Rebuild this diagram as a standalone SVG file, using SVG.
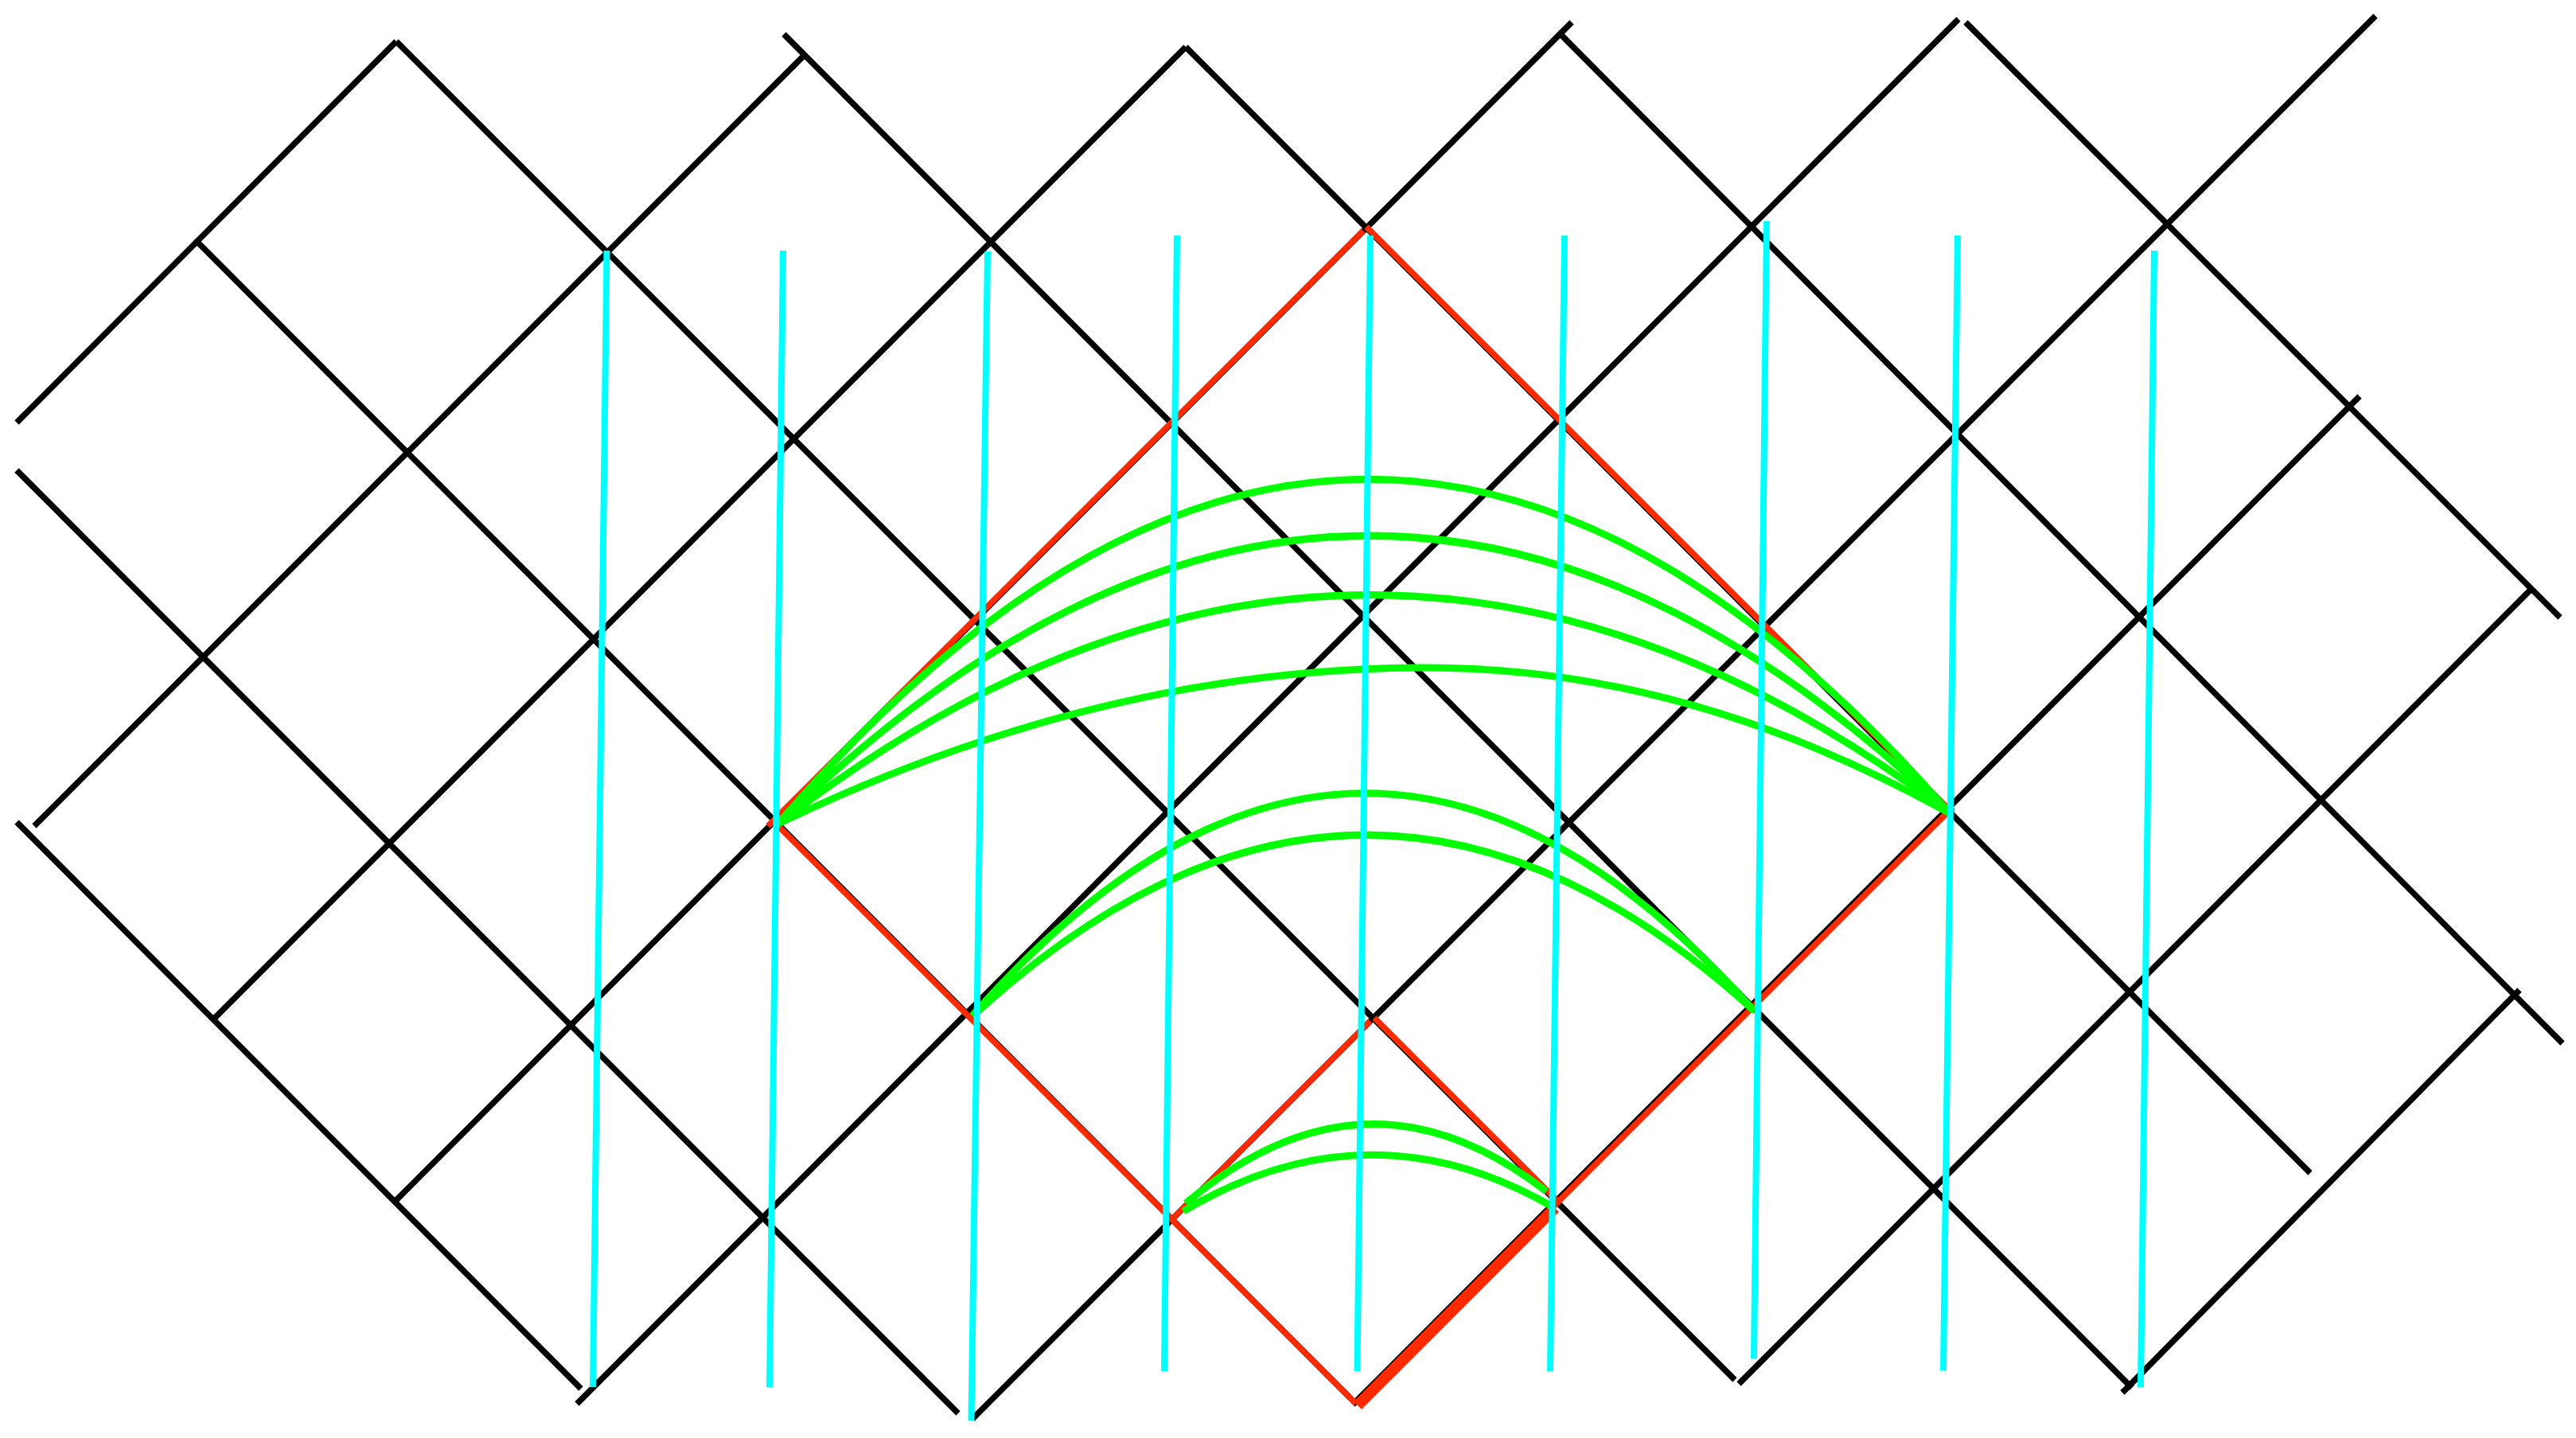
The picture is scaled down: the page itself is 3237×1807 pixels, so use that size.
<svg xmlns="http://www.w3.org/2000/svg" width="3237" height="1807" viewBox="0 0 3237 1807">
<style>
.blk{stroke:#000;stroke-width:7.5;fill:none;stroke-linecap:butt}
.red{stroke:#ff2a00;stroke-width:7.5;fill:none;stroke-linecap:butt}
.redthick{stroke:#ff2a00;stroke-width:14;fill:none;stroke-linecap:butt}
.grn{stroke:#00ff00;stroke-width:9;fill:none;stroke-linecap:butt}
.cyn{stroke:#00ffff;stroke-width:8;fill:none;stroke-linecap:butt}
</style>
<rect x="0" y="0" width="3237" height="1807" fill="#fff"/>
<g id="lattice">
<line class="blk" x1="21" y1="531" x2="498" y2="52"/>
<line class="blk" x1="498" y1="52" x2="2180" y2="1734"/>
<line class="blk" x1="245" y1="301" x2="1697" y2="1757"/>
<line class="blk" x1="21" y1="591" x2="1204" y2="1776"/>
<line class="blk" x1="21" y1="1033" x2="730" y2="1745"/>
<line class="blk" x1="985" y1="43" x2="2679" y2="1744"/>
<line class="blk" x1="1490" y1="59" x2="2903" y2="1474"/>
<line class="blk" x1="1958" y1="40" x2="3220" y2="1311"/>
<line class="blk" x1="2470" y1="28" x2="3217" y2="776"/>
<line class="blk" x1="43" y1="1038" x2="1010" y2="70"/>
<line class="blk" x1="270" y1="1279" x2="1490" y2="59"/>
<line class="blk" x1="498" y1="1508" x2="1975" y2="28"/>
<line class="blk" x1="725" y1="1764" x2="2461" y2="24"/>
<line class="blk" x1="1222" y1="1783" x2="2985" y2="20"/>
<line class="blk" x1="1700" y1="1765" x2="2965" y2="498"/>
<line class="blk" x1="2185" y1="1739" x2="3180" y2="741"/>
<line class="blk" x1="2667" y1="1750" x2="3166" y2="1244"/>
</g>
<g id="red-cone">
<line class="red" x1="965" y1="1038" x2="1713" y2="290"/>
<line class="red" x1="1717" y1="285" x2="2454" y2="1022"/>
<line class="red" x1="970" y1="1030" x2="1704" y2="1764"/>
<line class="red" x1="1950" y1="1518" x2="2454" y2="1014"/>
<line class="redthick" x1="1706" y1="1766" x2="1954" y2="1518"/>
<line class="red" x1="1472" y1="1533" x2="1722" y2="1283"/>
<line class="red" x1="1727" y1="1279" x2="1957" y2="1509"/>
</g>
<g id="green-arcs">
<path class="grn" d="M978,1035 Q1714,176 2450,1022"/>
<path class="grn" d="M978,1035 Q1714,318 2450,1022"/>
<path class="grn" d="M978,1035 Q1714,467 2450,1022"/>
<path class="grn" d="M978,1035 Q1385.5,839 1793,839 Q2121.5,839 2450,1022"/>
<path class="grn" d="M1222,1276 Q1713.5,720 2205,1271"/>
<path class="grn" d="M1222,1277 Q1713.5,825 2204,1270"/>
<path class="grn" d="M1490,1512 Q1717,1321 1943,1497"/>
<path class="grn" d="M1487,1522 Q1719.5,1383 1952,1517"/>
</g>
<g id="cyan-lines">
<line class="cyn" x1="762.5" y1="315" x2="745" y2="1743"/>
<line class="cyn" x1="984" y1="315" x2="967" y2="1743"/>
<line class="cyn" x1="1241" y1="316" x2="1220.5" y2="1785"/>
<line class="cyn" x1="1479" y1="296" x2="1463" y2="1723"/>
<line class="cyn" x1="1722" y1="296" x2="1705.5" y2="1723"/>
<line class="cyn" x1="1966" y1="296" x2="1948" y2="1723"/>
<line class="cyn" x1="2220" y1="278" x2="2204" y2="1707"/>
<line class="cyn" x1="2460" y1="296" x2="2442" y2="1722.5"/>
<line class="cyn" x1="2707" y1="315" x2="2690" y2="1743"/>
</g>
</svg>
